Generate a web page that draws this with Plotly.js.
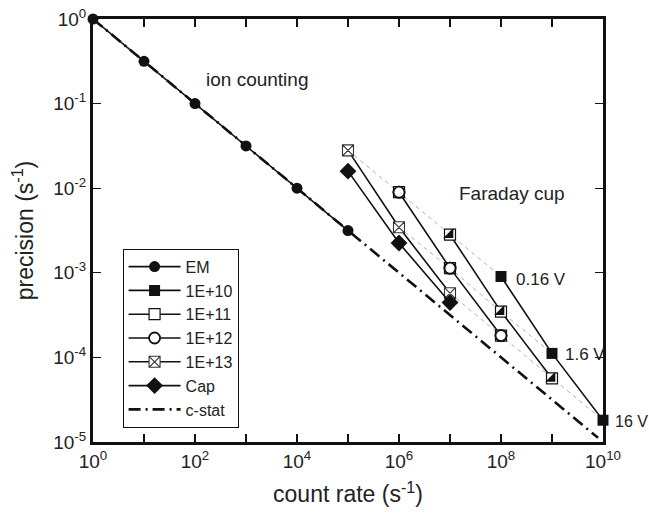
<!DOCTYPE html>
<html><head><meta charset="utf-8">
<script src="https://cdn.plot.ly/plotly-3.0.1.min.js"></script>
<style>html,body{margin:0;padding:0;background:#fff}#chart{width:649px;height:516px}</style>
</head><body><div id="chart"></div>
<script>
// count rate (s^-1) and precision values
const emX = [1, 10, 100, 1e3, 1e4, 1e5];
const emY = [1, 0.316, 0.1, 0.0316, 0.01, 0.00316];
const r10X = [1e8, 1e9, 1e10];
const r10Y = [0.000905, 0.0001115, 0.0000181];
const r11X = [1e7, 1e8, 1e9];
const r11Y = [0.00282, 0.000348, 0.0000564];
const r12X = [1e6, 1e7, 1e8];
const r12Y = [0.00897, 0.001135, 0.000181];
const r13X = [1e5, 1e6, 1e7];
const r13Y = [0.028, 0.00345, 0.000574];
const capX = [1e5, 1e6, 1e7];
const capY = [0.0159, 0.00225, 0.000445];
const cstatX = [1, 8e9];
const cstatY = [1, 0.0000112];
const seriesNames = ["EM", "1E+10", "1E+11", "1E+12", "1E+13", "Cap", "c-stat"];
const voltLabels = ["0.16 V", "1.6 V", "16 V"];
const xTickVals = [1, 1e2, 1e4, 1e6, 1e8, 1e10];
const xTickText = ["10<sup>0</sup>","10<sup>2</sup>","10<sup>4</sup>","10<sup>6</sup>","10<sup>8</sup>","10<sup>10</sup>"];
const xMinorVals = [10, 1e3, 1e5, 1e7, 1e9];
const yTickVals = [1,0.1,0.01,0.001,0.0001,0.00001];
const yTickText = ["10<sup>0</sup>","10<sup>-1</sup>","10<sup>-2</sup>","10<sup>-3</sup>","10<sup>-4</sup>","10<sup>-5</sup>"];

const blk = "#111";
const lineS = {color: blk, width: 1.6};
const traces = [];

// iso-voltage dashed guides (same voltage across resistors)
const groups = [[r13X, r13Y],[r12X, r12Y],[r11X, r11Y],[r10X, r10Y]];
for (let k = 0; k < 3; k++) {
  traces.push({x: groups.map(g => g[0][k]), y: groups.map(g => g[1][k]), mode: "lines",
    line: {color: "#999", width: 0.8, dash: "4px,4px"}, showlegend: false, hoverinfo: "skip"});
}
// c-stat
traces.push({x: cstatX, y: cstatY, name: seriesNames[6], mode: "lines",
  line: {color: blk, width: 2.6, dash: "12px,5px,2px,5px"}, legendrank: 7});
// EM
traces.push({x: emX, y: emY, name: seriesNames[0], mode: "lines+markers", line: lineS,
  marker: {symbol: "circle", size: 11, color: blk}, cliponaxis: false, legendrank: 1});
// 1E+10
traces.push({x: r10X, y: r10Y, name: seriesNames[1], mode: "lines+markers", line: lineS,
  marker: {symbol: "square", size: 11, color: blk}, cliponaxis: false, legendrank: 2});
// 1E+11 half-filled square
traces.push({x: r11X, y: r11Y, name: seriesNames[2], mode: "lines+markers", line: lineS,
  marker: {symbol: "square", size: 11, color: "#fff", line: {color: blk, width: 1.2}}, cliponaxis: false, legendrank: 3});
traces.push({x: r11X, y: r11Y, mode: "markers", showlegend: false, hoverinfo: "skip",
  marker: {symbol: "triangle-se", size: 11, color: blk, line: {width: 0}}, cliponaxis: false});
// 1E+12 circle in square
traces.push({x: r12X, y: r12Y, name: seriesNames[3], mode: "lines+markers", line: lineS,
  marker: {symbol: "circle", size: 11, color: "#fff", line: {color: blk, width: 1.8}}, cliponaxis: false, legendrank: 4});
traces.push({x: r12X, y: r12Y, mode: "markers", showlegend: false, hoverinfo: "skip",
  marker: {symbol: "square", size: 11, color: "#fff", line: {color: blk, width: 1.2}}, cliponaxis: false});
traces.push({x: r12X, y: r12Y, mode: "markers", showlegend: false, hoverinfo: "skip",
  marker: {symbol: "circle", size: 11, color: "#fff", line: {color: blk, width: 1.8}}, cliponaxis: false});
// 1E+13 X square
traces.push({x: r13X, y: r13Y, name: seriesNames[4], mode: "lines+markers", line: lineS,
  marker: {symbol: "square-x", size: 11, color: "#fff", line: {color: "#333", width: 1.1}}, cliponaxis: false, legendrank: 5});
// Cap
traces.push({x: capX, y: capY, name: seriesNames[5], mode: "lines+markers", line: lineS,
  marker: {symbol: "diamond", size: 13, color: blk}, cliponaxis: false, legendrank: 6});

const fam = "Liberation Sans, Arial, sans-serif";
const tf = {family: fam, size: 19, color: "#222"};
const af = {family: fam, size: 19, color: "#222"};
const vf = {family: fam, size: 17, color: "#222"};
const vf2 = {family: fam, size: 16, color: "#222"};
const layout = {
  width: 649, height: 516,
  margin: {l: 93, r: 46, t: 19, b: 74},
  paper_bgcolor: "#fff", plot_bgcolor: "#fff",
  font: tf,
  xaxis: {type: "log", range: [0, 10], tickmode: "array", tickvals: xTickVals, ticktext: xTickText,
    ticks: "inside", ticklen: 8, tickwidth: 1.2, tickcolor: blk, mirror: "allticks",
    minor: {tickmode: "array", tickvals: xMinorVals, ticks: "inside", ticklen: 8, tickwidth: 1.2, tickcolor: blk, showgrid: false},
    showline: true, linewidth: 3, linecolor: blk, showgrid: false, zeroline: false,
    tickfont: tf, title: {text: "count rate (s<sup>-1</sup>)", font: {family: fam, size: 23, color: "#222"}, standoff: 16}},
  yaxis: {type: "log", range: [-5, 0], tickmode: "array", tickvals: yTickVals, ticktext: yTickText,
    ticks: "inside", ticklen: 8, tickwidth: 1.2, tickcolor: blk, mirror: "allticks",
    showline: true, linewidth: 3, linecolor: blk, showgrid: false, zeroline: false,
    tickfont: tf, title: {text: "precision (s<sup>-1</sup>)", font: {family: fam, size: 23, color: "#222"}, standoff: 14}},
  legend: {x: 0.058, y: 0.457, xanchor: "left", yanchor: "top", bgcolor: "#fff",
    bordercolor: blk, borderwidth: 1, font: {family: fam, size: 16, color: "#222"},
    itemwidth: 52, tracegroupgap: 0, traceorder: "normal"},
  annotations: [
    {x: 3.21, y: -0.71, xref: "x", yref: "y", text: "ion counting", showarrow: false, font: af},
    {x: 8.21, y: -2.06, xref: "x", yref: "y", text: "Faraday cup", showarrow: false, font: af},
    {x: 8.25, y: -3.075, xref: "x", yref: "y", text: voltLabels[0], showarrow: false, xanchor: "left", font: vf},
    {x: 9.21, y: -3.97, xref: "x", yref: "y", text: voltLabels[1], showarrow: false, xanchor: "left", font: vf},
    {x: 1.0895, y: -4.76, xref: "paper", yref: "y", text: voltLabels[2], showarrow: false, xanchor: "right", borderpad: 0, font: vf2}
  ],
  showlegend: true
};
Plotly.newPlot("chart", traces, layout, {displayModeBar: false, staticPlot: true});
</script></body></html>
